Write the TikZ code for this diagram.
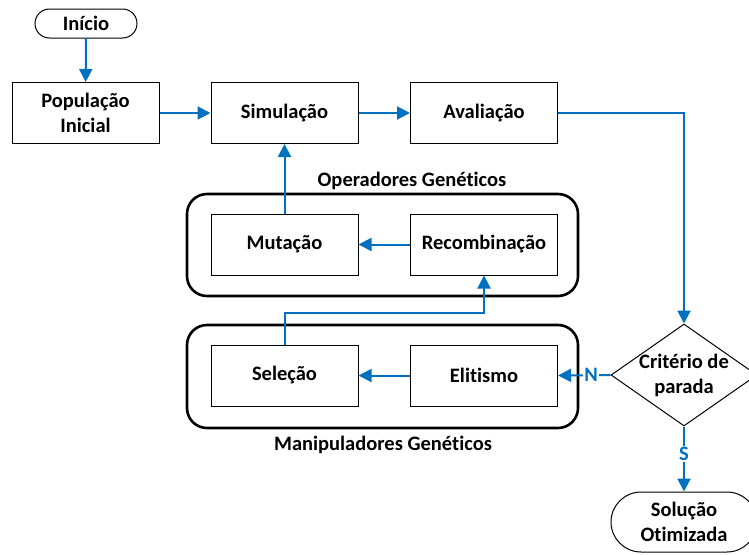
\documentclass[tikz,border=0pt]{standalone}
\usepackage{fontspec}
\setmainfont{Carlito}[Ligatures={NoCommon}]
\usetikzlibrary{shapes.geometric,shapes.misc,arrows.meta}
\definecolor{flowblue}{HTML}{0070C0}
\begin{document}
\begin{tikzpicture}[x=1pt,y=-1pt,
  txt/.style={font=\fontsize{20.5}{25}\selectfont\bfseries, align=center},
  box/.style={txt, draw, line width=1pt, fill=white, minimum width=147pt, minimum height=61pt, inner sep=0pt},
  term/.style={txt, draw, line width=1pt, fill=white, rounded rectangle, inner sep=0pt},
  grp/.style={draw, line width=2.6pt, rounded corners=20pt, inner sep=0pt},
  flow/.style={draw=flowblue, line width=2pt, -{Triangle[length=13pt,width=13pt]}},
  lab/.style={txt, text=flowblue, fill=white, inner sep=1.5pt}
]
\clip (0,0) rectangle (749,554);
% groups
\node[grp, minimum width=391pt, minimum height=102pt] (gop) at (382.5,245) {};
\node[grp, minimum width=391pt, minimum height=103pt] (gman) at (382.5,376.5) {};
\node[txt] (lop) at (412,181) {Operadores Genéticos};
\node[txt] (lman) at (383,445) {Manipuladores Genéticos};
% nodes
\node[term, minimum width=102pt, minimum height=29pt] (ini) at (86,23.5) {Início};
\node[box] (pop) at (85.5,113) {População\\Inicial};
\node[box] (sim) at (284.5,113) {Simulação};
\node[box] (ava) at (484,113) {Avaliação};
\node[box] (mut) at (284.5,244.5) {Mutação};
\node[box] (rec) at (484,244.5) {Recombinação};
\node[box] (sel) at (284.5,375.5) {Seleção};
\node[box] (eli) at (484,375.5) {Elitismo};
\node[draw, diamond, line width=1pt, fill=white, minimum width=146pt, minimum height=102pt, inner sep=0pt] (dia) at (684,375) {};
\node[txt] (diat) at (684,375) {Critério de\\parada};
\node[term, minimum width=146pt, minimum height=60pt] (sol) at (684,522) {Solução\\Otimizada};
% connectors
\draw[flow] (ini) -- (pop);
\draw[flow] (pop) -- (sim);
\draw[flow] (sim) -- (ava);
\draw[flow] (ava.east) -| (dia.north);
\draw[flow] (mut) -- (sim);
\draw[flow] (rec) -- (mut);
\draw[flow] (eli) -- (sel);
\draw[flow] (sel.north) -- ++(0,-32) -| (rec.south);
\draw[flow] (dia.west) -- (eli.east);
\node[lab] (nlab) at (591,375) {N};
\draw[flow] (dia.south) -- (sol.north);
\node[lab] (slab) at (684,454) {S};
\end{tikzpicture}
\end{document}
